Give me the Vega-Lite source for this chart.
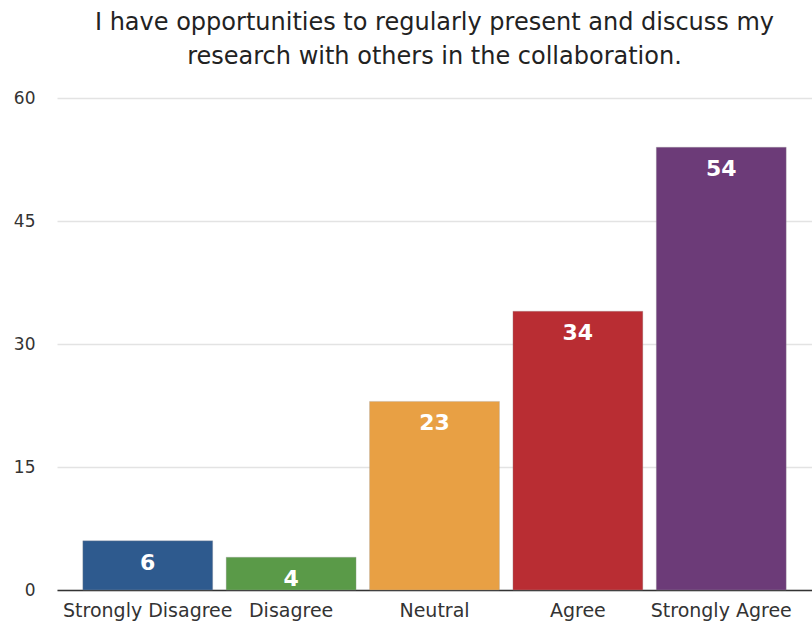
{
  "$schema": "https://vega.github.io/schema/vega-lite/v6.json",
  "autosize": {"type": "none"},
  "width": 755,
  "height": 492,
  "padding": {"left": 57, "top": 98, "right": 0, "bottom": 34},
  "background": "white",
  "title": {
    "text": ["I have opportunities to regularly present and discuss my", "research with others in the collaboration."],
    "font": "DejaVu Sans",
    "fontSize": 24,
    "fontWeight": "normal",
    "color": "#222222",
    "lineHeight": 34,
    "anchor": "middle",
    "frame": "group",
    "offset": 20
  },
  "config": {
    "view": {"stroke": null},
    "font": "DejaVu Sans"
  },
  "data": {
    "values": [
      {"response": "Strongly Disagree", "count": 6},
      {"response": "Disagree", "count": 4},
      {"response": "Neutral", "count": 23},
      {"response": "Agree", "count": 34},
      {"response": "Strongly Agree", "count": 54}
    ]
  },
  "encoding": {
    "x": {
      "field": "response",
      "type": "nominal",
      "sort": null,
      "scale": {"paddingInner": 0.094, "paddingOuter": 0.18},
      "axis": {
        "title": null,
        "labelAngle": 0,
        "labelFont": "DejaVu Sans",
        "labelFontSize": 19,
        "labelColor": "#333333",
        "labelPadding": 11,
        "labelOverlap": false,
        "labelBound": false,
        "ticks": false,
        "domainColor": "#333333",
        "domainWidth": 1.5
      }
    },
    "y": {
      "field": "count",
      "type": "quantitative",
      "scale": {"domain": [0, 60]},
      "axis": {
        "title": null,
        "values": [0, 15, 30, 45, 60],
        "labelFont": "DejaVu Sans",
        "labelFontSize": 17,
        "labelColor": "#333333",
        "labelPadding": 22,
        "ticks": false,
        "domain": false,
        "gridColor": "#e3e3e3",
        "gridWidth": 1.5
      }
    }
  },
  "layer": [
    {
      "mark": {"type": "bar", "stroke": "#999999", "strokeWidth": 0.5, "strokeOpacity": 0.6},
      "encoding": {
        "color": {
          "field": "response",
          "type": "nominal",
          "sort": null,
          "scale": {
            "domain": ["Strongly Disagree", "Disagree", "Neutral", "Agree", "Strongly Agree"],
            "range": ["#2e5a8e", "#5a9a48", "#e8a044", "#b92d33", "#6c3b78"]
          },
          "legend": null
        }
      }
    },
    {
      "mark": {"type": "text", "baseline": "top", "dy": 12, "font": "DejaVu Sans", "fontSize": 22, "fontWeight": "bold", "color": "white"},
      "encoding": {
        "text": {"field": "count", "type": "quantitative"}
      }
    }
  ]
}
